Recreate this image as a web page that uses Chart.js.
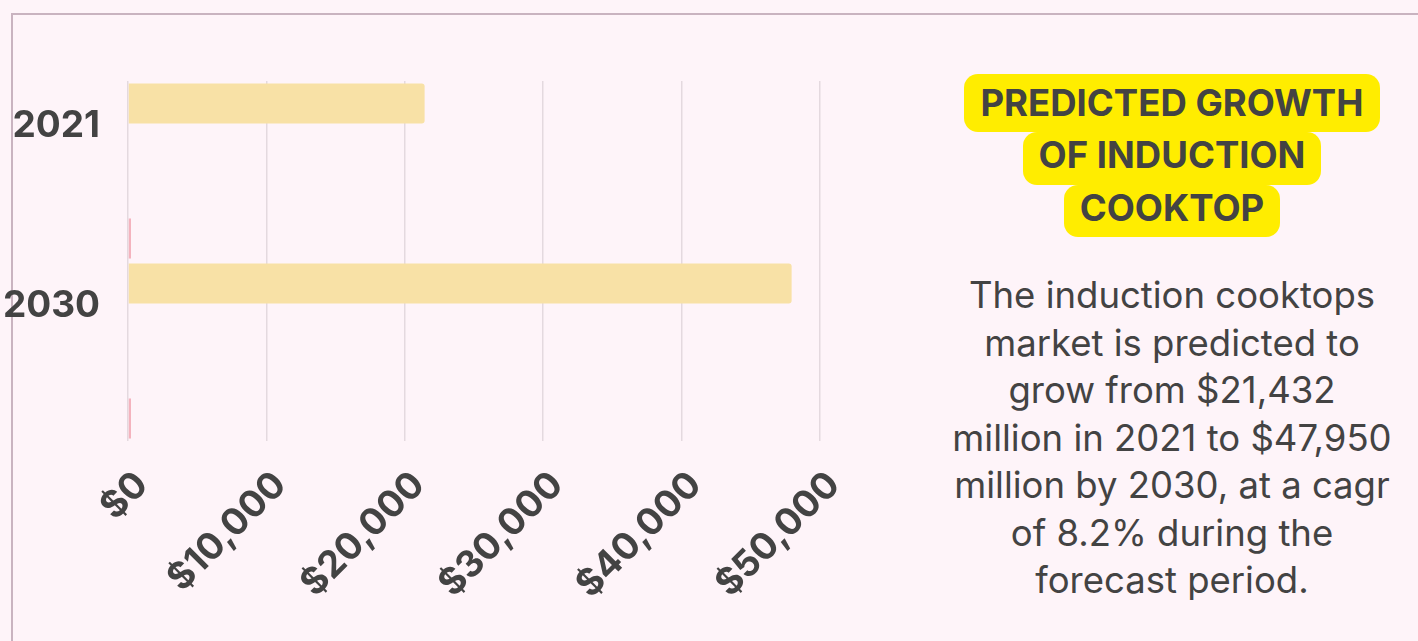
<!DOCTYPE html>
<html>
<head>
<meta charset="utf-8">
<script src="https://cdn.jsdelivr.net/npm/chart.js@4.4.1/dist/chart.umd.min.js"></script>
<style>
  html, body { margin: 0; padding: 0; }
  body { width: 1418px; height: 641px; background: #fef4f9; position: relative; overflow: hidden; font-family: Inter, "Liberation Sans", sans-serif; color: #434343; }
  #frame { position: absolute; left: 11px; top: 13px; width: 1500px; height: 700px; border: 2px solid #c9b3c0; box-sizing: border-box; }
  #chartBox { position: absolute; left: 0; top: 0; width: 881px; height: 641px; }
  #side { position: absolute; left: 922px; top: 74px; width: 500px; text-align: center; }
  .hl { display: inline-block; background: #ffed00; font-weight: 700; font-size: 36.5px; padding: 0 16px; border-radius: 14px; vertical-align: top; }
  #title div { line-height: 0; }
  #l1 { line-height: 52px; padding-top: 3px; padding-bottom: 3px; }
  #l2 { line-height: 46px; padding-bottom: 7px; }
  #l3 { line-height: 46px; padding-bottom: 6px; }
  #body { margin-top: 35px; font-size: 36.5px; line-height: 47.5px; }
</style>
</head>
<body>
<div id="frame"></div>
<div id="chartBox"><canvas id="chart"></canvas></div>
<div id="side">
  <div id="title">
    <div><span class="hl" id="l1">PREDICTED GROWTH</span></div>
    <div><span class="hl" id="l2">OF INDUCTION</span></div>
    <div><span class="hl" id="l3">COOKTOP</span></div>
  </div>
  <div id="body">The induction cooktops<br>market is predicted to<br>grow from $21,432<br>million in 2021 to $47,950<br>million by 2030, at a cagr<br>of 8.2% during the<br>forecast period.</div>
</div>
<script>
// 행 라벨 (빈 칸은 CAGR 행)
const rowLabels = ["2021", "", "2030", ""];
const marketValues = [21432, null, 47950, null];   // 백만 달러
const cagrValues = [null, 8.2, null, 8.2];         // %
const xTicksMax = 50000;
const xTicksStep = 10000;

const axisFont = { family: "Inter, 'Liberation Sans', sans-serif", size: 37, weight: "bold" };

const ctx = document.getElementById("chart").getContext("2d");
new Chart(ctx, {
  type: "bar",
  data: {
    labels: rowLabels,
    datasets: [
      { label: "Market size", data: marketValues, backgroundColor: "#f8e1a6", borderRadius: 3, borderSkipped: "start" },
      { label: "CAGR", data: cagrValues, backgroundColor: "#f4b3be", minBarLength: 3 }
    ]
  },
  options: {
    indexAxis: "y",
    responsive: true,
    maintainAspectRatio: false,
    animation: false,
    categoryPercentage: 1,
    barPercentage: 0.89,
    layout: { padding: { top: 81, right: 61, bottom: 0, left: 0 } },
    plugins: { legend: { display: false }, tooltip: { enabled: false } },
    scales: {
      x: {
        min: 0,
        max: xTicksMax,
        afterFit: s => { s.height = 200; },
        border: { display: false },
        grid: { color: "#e4d9df", lineWidth: 1.5, drawTicks: false },
        ticks: {
          stepSize: xTicksStep,
          minRotation: 45,
          maxRotation: 45,
          padding: 22,
          labelOffset: 14,
          color: "#434343",
          font: axisFont,
          callback: v => "$" + Number(v).toLocaleString("en-US")
        }
      },
      y: {
        afterFit: s => { s.width = 128; },
        border: { display: false },
        grid: { display: false, drawTicks: false },
        ticks: {
          padding: 28,
          color: "#434343",
          font: axisFont
        }
      }
    }
  }
});
</script>
</body>
</html>
